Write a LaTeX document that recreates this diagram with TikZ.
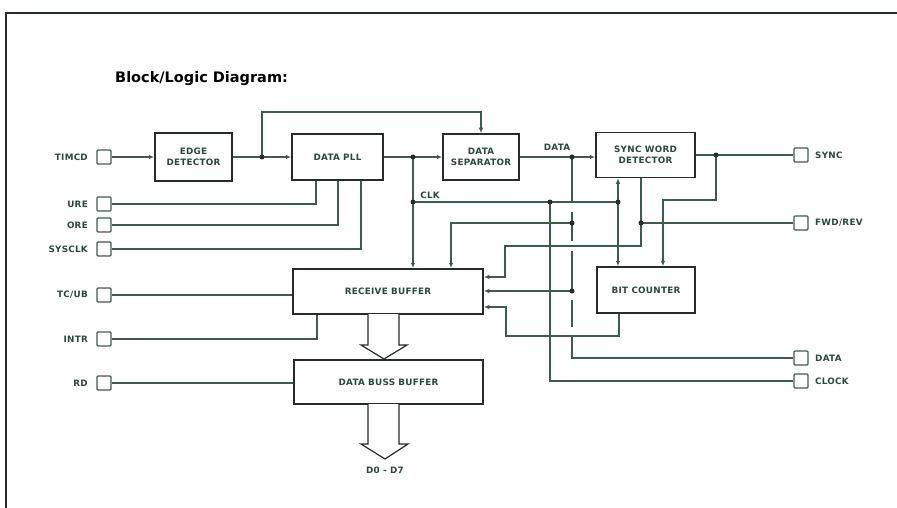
\documentclass[tikz,border=0pt]{standalone}
\usepackage{fontspec}
\setmainfont{DejaVu Sans}
\newfontfamily\lblfont[LetterSpace=3,FakeBold=0]{DejaVu Sans}
\newfontfamily\titlefont{DejaVu Sans}
\usetikzlibrary{arrows.meta}
\definecolor{wire}{RGB}{62,92,78}
\definecolor{ink}{RGB}{42,72,60}
\definecolor{boxc}{RGB}{38,44,41}
\begin{document}
\begin{tikzpicture}[x=1pt,y=-1pt,
  wire/.style={draw=wire,line width=1.2pt},
  arr/.style={wire,-{Latex[length=5.5pt,width=4.5pt]}},
  blk/.style={draw=boxc,line width=1.5pt,inner sep=0pt,align=center,
    font=\lblfont\bfseries\fontsize{8.8}{11}\selectfont,text=ink},
  pin/.style={draw=wire,line width=1.3pt,rounded corners=1pt,minimum size=14pt,inner sep=0pt},
  lbl/.style={font=\lblfont\bfseries\fontsize{8.8}{11}\selectfont,text=ink,inner sep=0pt},
  dot/.style={fill=boxc,circle,inner sep=0pt,minimum size=5pt},
  hollow/.style={draw=boxc,line width=1.2pt,fill=white}]
\useasboundingbox (0,0) rectangle (897,508);
% frame
\draw[line width=1.6pt,boxc] (6,508) -- (6,13) -- (897,13);
\node[anchor=west,inner sep=0pt,font=\titlefont\bfseries\fontsize{14.5}{16}\selectfont] (title) at (115,79) {Block/Logic Diagram:};
% blocks
\node[blk,minimum width=77pt,minimum height=48pt] (edge) at (193.5,157) {EDGE\\DETECTOR};
\node[blk,minimum width=91pt,minimum height=46pt] (pll) at (337.5,157) {DATA PLL};
\node[blk,minimum width=76pt,minimum height=46pt] (sep) at (481,157) {DATA\\SEPARATOR};
\node[blk,minimum width=99pt,minimum height=45pt] (sync) at (645.5,155) {SYNC WORD\\DETECTOR};
\node[blk,minimum width=190pt,minimum height=45pt] (rx) at (388,291.5) {RECEIVE BUFFER};
\node[blk,minimum width=98pt,minimum height=46pt] (bit) at (646,290) {BIT COUNTER};
\node[blk,minimum width=189pt,minimum height=44pt] (dbb) at (388.5,382) {DATA BUSS BUFFER};
% left pins
\node[pin] (timcd) at (104,157) {};
\node[pin] (ure) at (104,204) {};
\node[pin] (ore) at (104,225) {};
\node[pin] (sysclk) at (104,249) {};
\node[pin] (tcub) at (104,295) {};
\node[pin] (intr) at (104,339) {};
\node[pin] (rd) at (104,383) {};
\node[lbl,anchor=east] (ltimcd) at (88,157) {TIMCD};
\node[lbl,anchor=east] (lure) at (88,204) {URE};
\node[lbl,anchor=east] (lore) at (88,225) {ORE};
\node[lbl,anchor=east] (lsysclk) at (88,249) {SYSCLK};
\node[lbl,anchor=east] (ltcub) at (88,295) {TC/UB};
\node[lbl,anchor=east] (lintr) at (88,339) {INTR};
\node[lbl,anchor=east] (lrd) at (88,383) {RD};
% right pins
\node[pin] (psync) at (801,155) {};
\node[pin] (pfwd) at (801,223) {};
\node[pin] (pdata) at (801,358) {};
\node[pin] (pclock) at (801,381) {};
\node[lbl,anchor=west] (lsync) at (815,155) {SYNC};
\node[lbl,anchor=west] (lfwd) at (815,223) {FWD/REV};
\node[lbl,anchor=west] (ldata) at (815,358) {DATA};
\node[lbl,anchor=west] (lclock) at (815,381) {CLOCK};
% inner labels
\node[lbl] (tdata) at (557,147) {DATA};
\node[lbl] (tclk) at (430,195) {CLK};
\node[lbl] (td) at (385,470) {D0 - D7};
% junctions
\coordinate (j1) at (262,157);
\coordinate (j2) at (413,157);
\coordinate (jclk) at (413,202);
\coordinate (jclk2) at (550,202);
\coordinate (jclk3) at (618,202);
\coordinate (jd) at (572,157);
\coordinate (jd2) at (572,223);
\coordinate (jd3) at (572,291);
\coordinate (js) at (716,155);
\coordinate (jf) at (641,223);
% top chain
\draw[arr] (timcd.east) -- (edge.west);
\draw[wire] (edge.east) -- (j1);
\draw[arr] (j1) -- (pll.west |- j1);
\draw[arr] (j1) -- (262,112) -| (sep.north);
\draw[wire] (pll.east |- j2) -- (j2);
\draw[arr] (j2) -- (sep.west |- j2);
\draw[wire] (sep.east |- jd) -- (jd);
\draw[arr] (jd) -- (sync.west |- jd);
\draw[wire] (sync.east |- js) -- (js) -- (psync.west);
% clk
\draw[wire] (j2) -- (jclk);
\draw[arr] (jclk) -- (rx.north -| jclk);
\draw[wire] (jclk) -- (jclk3);
\draw[arr] (jclk3) -- (sync.south -| jclk3);
\draw[arr] (jclk3) -- (bit.north -| jclk3);
\draw[wire] (jclk2) |- (pclock.west);
% data vertical with breaks at crossings
\draw[wire] (jd) -- (572,202);
\draw[wire] (572,212) -- (jd2) -- (572,241);
\draw[wire] (572,251) -- (jd3);
\draw[wire] (572,300) -- (572,327);
\draw[wire] (572,337) |- (pdata.west);
\draw[arr] (jd2) -| (451,0 |- rx.north);
\draw[arr] (jd3) -- (rx.east |- jd3);
% sync outputs
\draw[arr] (js) |- (663,200) -- (663,0 |- bit.north);
\draw[wire] (sync.south -| jf) -- (jf);
\draw[wire] (jf) -- (pfwd.west);
\draw[arr] (jf) |- (505,246) |- (rx.east |- 0,277);
\draw[arr] (bit.south -| 619,0) |- (506,336) |- (rx.east |- 0,307);
% pll inputs
\draw[wire] (pll.south -| 316,0) |- (ure.east);
\draw[wire] (pll.south -| 338,0) |- (ore.east);
\draw[wire] (pll.south -| 361,0) |- (sysclk.east);
% receive buffer / data buss inputs
\draw[wire] (tcub.east) -- (rx.west |- tcub.east);
\draw[wire] (intr.east) -| (rx.south -| 317,0);
\draw[wire] (rd.east) -- (dbb.west |- rd.east);
% hollow arrows
\draw[hollow] (368,314) -- (368,345) -- (361,345) -- (384,359) -- (407,345) -- (399,345) -- (399,314);
\draw[hollow] (368,404) -- (368,444) -- (361,444) -- (385,459) -- (408,444) -- (399,444) -- (399,404);
% dots
\foreach \p in {j1,j2,jclk,jclk2,jclk3,jd,jd2,jd3,js,jf} \node[dot] at (\p) {};
\end{tikzpicture}
\end{document}
